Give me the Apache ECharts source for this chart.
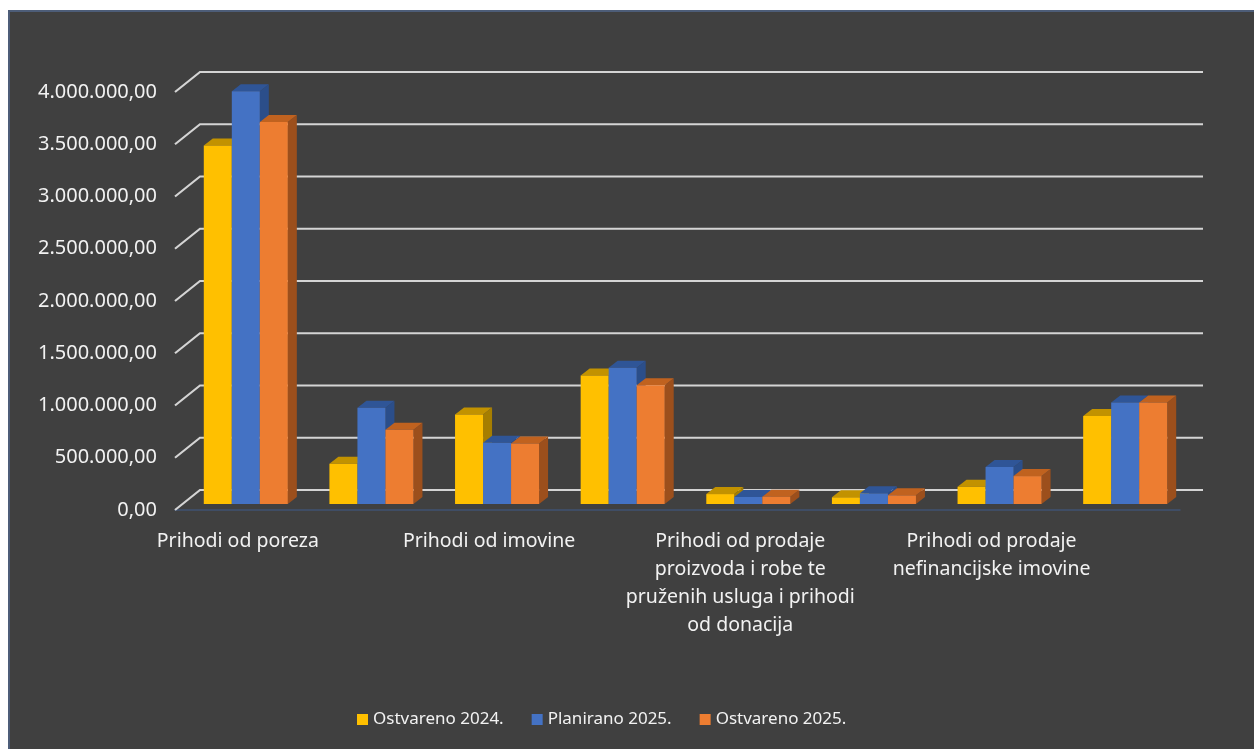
<!DOCTYPE html>
<html>
<head>
<meta charset="utf-8">
<script src="https://cdn.jsdelivr.net/npm/echarts@6/dist/echarts.min.js"></script>
<style>
  html, body { margin: 0; padding: 0; background: #ffffff; width: 1254px; height: 749px; overflow: hidden; }
  #frame { position: absolute; left: 8px; top: 10px; right: 0; bottom: 0; background: #404040; border-left: 2px solid #4d5d78; border-top: 2px solid #4d5d78; }
  #chart { position: absolute; left: 0; top: 0; width: 1254px; height: 749px; }
</style>
</head>
<body>
<div id="frame"></div>
<div id="chart"></div>
<script>
// ---- data ----
const categories = [
  'Prihodi od poreza',
  'Pomoći iz inozemstva i od subjekata unutar općeg proračuna',
  'Prihodi od imovine',
  'Prihodi od upravnih i administrativnih pristojbi, pristojbi po posebnim propisima i naknada',
  'Prihodi od prodaje\nproizvoda i robe te\npruženih usluga i prihodi\nod donacija',
  'Kazne, upravne mjere i ostali prihodi',
  'Prihodi od prodaje\nnefinancijske imovine',
  'Primici od financijske imovine i zaduživanja'
];
const seriesNames = ['Ostvareno 2024.', 'Planirano 2025.', 'Ostvareno 2025.'];
const ostvareno2024 = [3430000, 385000, 856000, 1230000, 95000, 64000, 165000, 843000];
const planirano2025 = [3950000, 920000, 585000, 1305000, 67000, 102000, 353000, 972000];
const ostvareno2025 = [3655000, 710000, 579000, 1136000, 70000, 83000, 267000, 972000];
const yTicks = [0, 500000, 1000000, 1500000, 2000000, 2500000, 3000000, 3500000, 4000000];

const palette = [
  { front: '#FFC000', top: '#C29200', side: '#A67E00' },
  { front: '#4472C4', top: '#2F5597', side: '#2B4E8A' },
  { front: '#ED7D31', top: '#C0621F', side: '#9C4F1C' }
];

function fmt(v) {
  const s = Math.round(v).toString();
  const withDots = s.replace(/\B(?=(\d{3})+(?!\d))/g, '.');
  return withDots + ',00';
}

const DX = 9, DY = -7; // bar depth

function barRender(idx) {
  return function (params, api) {
    const cat = api.value(0), val = api.value(1);
    const top = api.coord([cat, val]);
    const base = api.coord([cat, 0]);
    const band = api.size([1, 0])[0];
    const w = band * 0.223;
    const x0 = top[0] + (idx - 1.5) * w;
    const x1 = x0 + w;
    const yT = top[1], yB = base[1];
    const c = palette[idx];
    return {
      type: 'group',
      children: [
        { type: 'polygon', shape: { points: [[x1, yT], [x1 + DX, yT + DY], [x1 + DX, yB + DY], [x1, yB]] }, style: { fill: c.side } },
        { type: 'polygon', shape: { points: [[x0, yT], [x0 + DX, yT + DY], [x1 + DX, yT + DY], [x1, yT]] }, style: { fill: c.top } },
        { type: 'rect', shape: { x: x0, y: yT, width: w, height: yB - yT }, style: { fill: c.front } }
      ]
    };
  };
}

function gridRender(params, api) {
  const y = api.coord([0, api.value(1)])[1];
  const cs = params.coordSys;
  const x0 = cs.x;
  return {
    type: 'polyline',
    shape: { points: [[x0, y], [x0 + 25, y - 20], [cs.x + cs.width + 23, y - 20]] },
    style: { stroke: '#d4d4d4', lineWidth: 2.2, fill: null }
  };
}

const seriesData = [ostvareno2024, planirano2025, ostvareno2025];
const txt = '#f2f2f2';
const FONT = 'Noto Sans';

const option = {
  backgroundColor: 'transparent',
  animation: false,
  textStyle: { fontFamily: FONT },
  legend: {
    left: 352, top: 706,
    itemWidth: 11, itemHeight: 11, itemGap: 28,
    icon: 'rect',
    textStyle: { color: txt, fontSize: 17, fontFamily: FONT },
    data: seriesNames
  },
  grid: [
    { left: 183, top: 86, width: 1005, height: 418 },
    { left: 175, top: 92, width: 1005, height: 418 }
  ],
  xAxis: [
    { gridIndex: 0, type: 'category', data: categories, show: false },
    {
      gridIndex: 1, type: 'category', data: categories,
      axisLine: { show: true, lineStyle: { color: '#3f5272', width: 1.5 } },
      axisTick: { show: false },
      axisLabel: { interval: 1, color: txt, fontSize: 19.5, lineHeight: 28, margin: 17, fontFamily: FONT, align: 'center' }
    }
  ],
  yAxis: [
    { gridIndex: 0, type: 'value', min: 0, max: 4000000, interval: 500000, show: false },
    {
      gridIndex: 1, type: 'value', min: 0, max: 4000000, interval: 500000,
      axisLine: { show: false }, axisTick: { show: false }, splitLine: { show: false },
      axisLabel: { color: txt, fontSize: 20, margin: 18, fontFamily: FONT, formatter: fmt }
    }
  ],
  series: [
    {
      type: 'custom', name: 'grid', xAxisIndex: 1, yAxisIndex: 1, z: 1, silent: true,
      data: yTicks.map(v => [0, v]), renderItem: gridRender, clip: false
    }
  ].concat(seriesData.map((arr, i) => ({
    type: 'custom', name: seriesNames[i], xAxisIndex: 0, yAxisIndex: 0, z: 3 + i,
    itemStyle: { color: palette[i].front },
    encode: { x: 0, y: 1 },
    data: arr.map((v, k) => [k, v]),
    renderItem: barRender(i), clip: false
  })))
};

const chart = echarts.init(document.getElementById('chart'), null, { renderer: 'canvas' });
chart.setOption(option);
</script>
</body>
</html>
